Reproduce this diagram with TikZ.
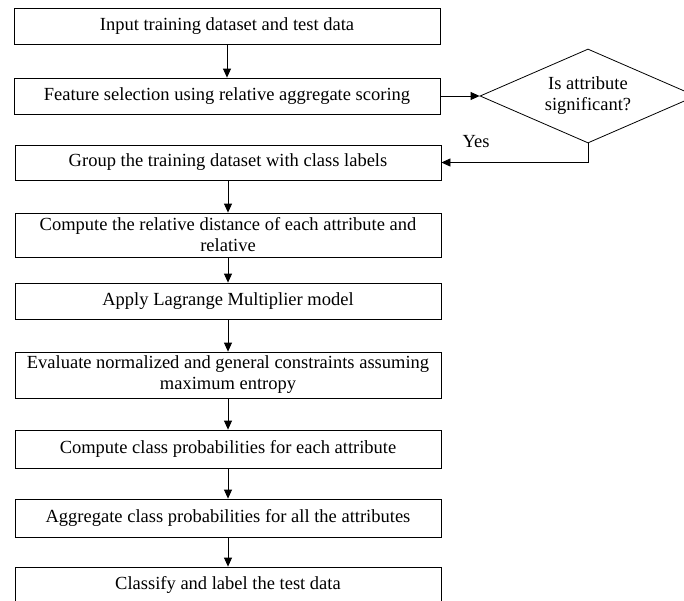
\documentclass[tikz,border=0pt]{standalone}
\usepackage{fontspec}
\setmainfont{Liberation Serif}
\usetikzlibrary{arrows.meta, positioning, shapes.geometric}

\begin{document}
\begin{tikzpicture}[x=1pt, y=-1pt,
    stepbox/.style={draw, line width=0.8pt, minimum width=426pt, minimum height=36pt,
        inner sep=0pt, align=center, font=\fontsize{18.5}{21}\selectfont},
    decision/.style={draw, diamond, line width=0.8pt, aspect=2.3, minimum width=216pt,
        minimum height=94pt, inner sep=0pt, align=center, font=\fontsize{18.5}{21}\selectfont},
    arr/.style={-{Triangle[length=9pt, width=8pt]}, line width=0.8pt}]
    \useasboundingbox (0, 0) rectangle (684, 600);
    \clip (0, 0) rectangle (684, 600);

    % Main column of steps
    \node[stepbox] (input) at (227, 26) {Input training dataset and test data};
    \node[stepbox] (feature) at (227, 96) {Feature selection using relative aggregate scoring};
    \node[stepbox, minimum height=35pt] (group) at (228, 162.5) {Group the training dataset with class labels};
    \node[stepbox, minimum height=44pt] (distance) at (228, 235) {Compute the relative distance of each attribute and\\relative};
    \node[stepbox] (lagrange) at (228, 301) {Apply Lagrange Multiplier model};
    \node[stepbox, minimum height=46pt] (constraints) at (228, 375) {Evaluate normalized and general constraints assuming\\maximum entropy};
    \node[stepbox, minimum height=38pt] (classprob) at (228, 449) {Compute class probabilities for each attribute};
    \node[stepbox, minimum height=38pt] (aggregate) at (228, 518) {Aggregate class probabilities for all the attributes};
    \node[stepbox] (classify) at (228, 585) {Classify and label the test data};

    % Significance check
    \node[decision] (significant) at (588, 96) {Is attribute\\significant?};
    \node[font=\fontsize{18.5}{21}\selectfont] (yes) at (476, 142) {Yes};

    % Arrows
    \draw[arr] (input) -- (feature);
    \draw[arr] (feature) -- (significant);
    \draw[arr] (significant.south) |- (group.east);
    \draw[arr] (group) -- (distance);
    \draw[arr] (distance) -- (lagrange);
    \draw[arr] (lagrange) -- (constraints);
    \draw[arr] (constraints) -- (classprob);
    \draw[arr] (classprob) -- (aggregate);
    \draw[arr] (aggregate) -- (classify);
\end{tikzpicture}
\end{document}
